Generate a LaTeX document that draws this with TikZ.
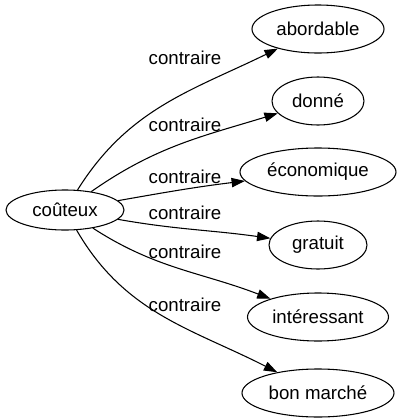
\documentclass[tikz,border=0pt]{standalone}
\usepackage{fontspec}
\setmainfont{Liberation Sans}
\usetikzlibrary{arrows.meta,shapes.geometric}

\begin{document}
\begin{tikzpicture}[x=.75pt, y=-.75pt, font=\fontsize{14}{16}\selectfont,
    >={Triangle[length=10pt,width=7pt]}, line width=.8pt,
    word/.style={draw, ellipse, inner sep=0pt, minimum height=36pt},
    rel/.style={->},
    lbl/.style={inner sep=0pt}]
    \useasboundingbox (0,0) rectangle (402,419);
    \node[word, minimum width=88.5pt, minimum height=30pt] (src) at (65,210) {coûteux};
    \foreach \i/\y/\w/\t in {1/29/99pt/abordable, 2/101/69pt/donné,
        3/172/117pt/économique, 4/245/73.5pt/gratuit,
        5/317/105.75pt/intéressant, 6/393/114pt/bon marché} {
      \node[word, minimum width=\w] (t\i) at (318,\y) {\t};
    }
    \foreach \i/\o/\a/\ly in {1/58/206/58, 2/35/197/125, 3/10/187/177,
        4/-10/172/213, 5/-33/159/252, 6/-60/153/305} {
      \node[lbl] (l\i) at (185,\ly) {contraire};
      \draw[rel] (src) to[out=\o,in=\a] (t\i);
    }
\end{tikzpicture}
\end{document}
